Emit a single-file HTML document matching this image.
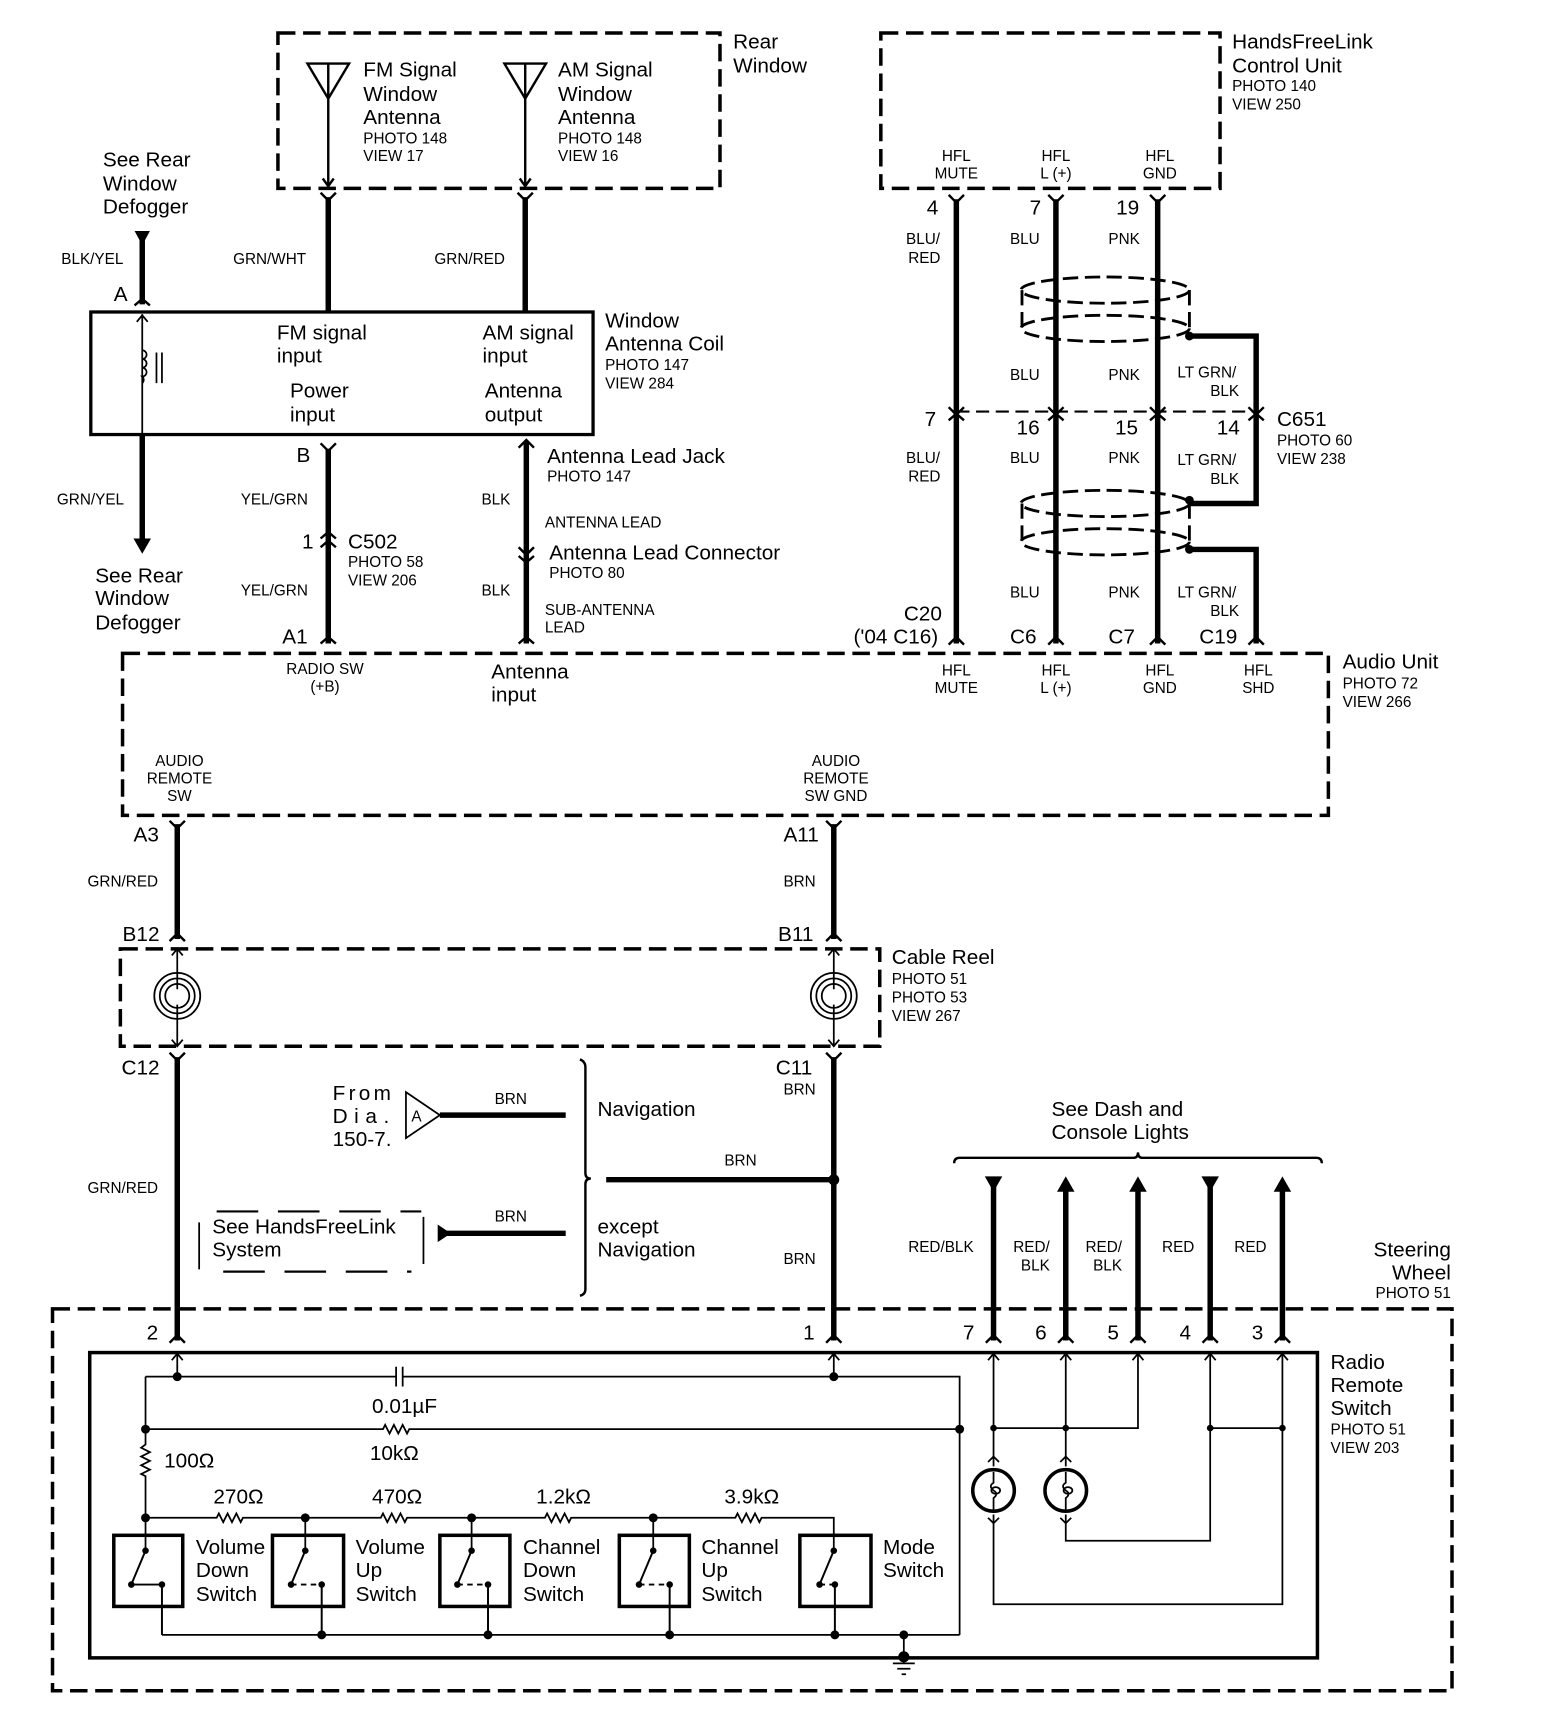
<!DOCTYPE html>
<html><head><meta charset="utf-8"><style>
html,body{margin:0;padding:0;background:#fff}
svg{display:block}
text{font-family:"Liberation Sans",sans-serif;fill:#000}
.L{font-size:19px}.S{font-size:14px}.M{font-size:15px}
.w{stroke:#000;stroke-width:5;fill:none}
.t{stroke:#000;stroke-width:1.6;fill:none}
.d{stroke:#000;stroke-width:3.2;fill:none;stroke-dasharray:16 7}
.c{stroke:#000;stroke-width:2.2;fill:none}
</style></head><body>
<svg width="1568" height="1716" viewBox="0 0 1433 1568" xmlns="http://www.w3.org/2000/svg">
<!-- Rear window -->
<rect x="254" y="30" width="404" height="142" class="d"/>
<text class="L" x="670" y="44">Rear</text><text class="L" x="670" y="66">Window</text>
<path d="M281 58 L319 58 L300 90 Z M300 58 V170 M295 163 L300 170 L305 163" class="c"/>
<path d="M461 58 L499 58 L480 90 Z M480 58 V170 M475 163 L480 170 L485 163" class="c"/>
<text class="L" x="332" y="70">FM Signal</text><text class="L" x="332" y="92">Window</text><text class="L" x="332" y="113">Antenna</text>
<text class="S" x="332" y="131">PHOTO 148</text><text class="S" x="332" y="147">VIEW 17</text>
<text class="L" x="510" y="70">AM Signal</text><text class="L" x="510" y="92">Window</text><text class="L" x="510" y="113">Antenna</text>
<text class="S" x="510" y="131">PHOTO 148</text><text class="S" x="510" y="147">VIEW 16</text>
<path d="M300 180 V285 M480 180 V285" class="w"/>
<path d="M293 176 L300 183 L307 176 M473 176 L480 183 L487 176" class="c" stroke-width="3"/>
<text class="S" x="213" y="241">GRN/WHT</text><text class="S" x="397" y="241">GRN/RED</text>
<!-- defogger -->
<text class="L" x="94" y="152">See Rear</text><text class="L" x="94" y="174">Window</text><text class="L" x="94" y="195">Defogger</text>
<path d="M123 211 L137 211 L130 224 Z" fill="#000"/>
<path d="M130 212 V278" class="w"/>
<path d="M123 279 L130 273 L137 279" class="c" stroke-width="3"/>
<text class="S" x="56" y="241">BLK/YEL</text><text class="L" x="104" y="275">A</text>
<rect x="83" y="285" width="459" height="112" stroke="#000" stroke-width="3" fill="none"/>
<path d="M130 287 V397 M125 294 L130 288 L135 294" class="t"/>
<path d="M130 320 a4 4 0 0 1 0 8 a4 4 0 0 1 0 8 a4 4 0 0 1 0 8 a4 4 0 0 1 0 6 M143 322 V350 M148 322 V350" class="t"/>
<text class="L" x="253" y="310">FM signal</text><text class="L" x="253" y="331">input</text>
<text class="L" x="441" y="310">AM signal</text><text class="L" x="441" y="331">input</text>
<text class="L" x="265" y="363">Power</text><text class="L" x="265" y="385">input</text>
<text class="L" x="443" y="363">Antenna</text><text class="L" x="443" y="385">output</text>
<text class="L" x="553" y="299">Window</text><text class="L" x="553" y="320">Antenna Coil</text>
<text class="S" x="553" y="338">PHOTO 147</text><text class="S" x="553" y="355">VIEW 284</text>
<path d="M130 397 V495" class="w"/><path d="M122 492 L138 492 L130 506 Z" fill="#000"/>
<text class="S" x="52" y="461">GRN/YEL</text>
<text class="L" x="87" y="532">See Rear</text><text class="L" x="87" y="553">Window</text><text class="L" x="87" y="575">Defogger</text>
<!-- B / C502 -->
<path d="M300 410 V588" class="w"/>
<path d="M293 405 L300 412 L307 405 M293 588 L300 582 L307 588 M293 492 L300 486 L307 492 M293 500 L300 494 L307 500" class="c" stroke-width="3"/>
<text class="L" x="271" y="422">B</text><text class="S" x="220" y="461">YEL/GRN</text><text class="S" x="220" y="544">YEL/GRN</text>
<text class="L" x="276" y="501">1</text><text class="L" x="318" y="501">C502</text>
<text class="S" x="318" y="518">PHOTO 58</text><text class="S" x="318" y="535">VIEW 206</text>
<text class="L" x="258" y="588">A1</text>
<path d="M481 403 V588" class="w"/>
<path d="M474 409 L481 402 L488 409 M474 500 L481 507 L488 500 M474 508 L481 514 L488 508 M474 588 L481 582 L488 588" class="c" stroke-width="3"/>
<text class="L" x="500" y="423">Antenna Lead Jack</text><text class="S" x="500" y="440">PHOTO 147</text>
<text class="S" x="440" y="461">BLK</text><text class="S" x="498" y="482">ANTENNA LEAD</text>
<text class="L" x="502" y="511">Antenna Lead Connector</text><text class="S" x="502" y="528">PHOTO 80</text>
<text class="S" x="440" y="544">BLK</text><text class="S" x="498" y="562">SUB-ANTENNA</text><text class="S" x="498" y="578">LEAD</text>
<!-- HFL unit -->
<rect x="805" y="30" width="310" height="142" class="d"/>
<text class="L" x="1126" y="44">HandsFreeLink</text><text class="L" x="1126" y="66">Control Unit</text>
<text class="S" x="1126" y="83">PHOTO 140</text><text class="S" x="1126" y="100">VIEW 250</text>
<g class="S" text-anchor="middle"><text x="874" y="147">HFL</text><text x="874" y="163">MUTE</text>
<text x="965" y="147">HFL</text><text x="965" y="163">L (+)</text><text x="1060" y="147">HFL</text><text x="1060" y="163">GND</text></g>
<path d="M874 182 V588 M965 182 V588 M1058 182 V588" class="w"/>
<path d="M1087 307 H1148 V460 H1087 M1087 502 H1148 V588" class="w"/>
<g class="c" stroke-width="3">
<path d="M867 178 L874 185 L881 178 M958 178 L965 185 L972 178 M1051 178 L1058 185 L1065 178"/>
<path d="M867 372 L874 379 L881 372 M958 372 L965 379 L972 372 M1051 372 L1058 379 L1065 372 M1141 372 L1148 379 L1155 372"/>
<path d="M867 384 L874 378 L881 384 M958 384 L965 378 L972 384 M1051 384 L1058 378 L1065 384 M1141 384 L1148 378 L1155 384"/>
<path d="M867 589 L874 582 L881 589 M958 589 L965 582 L972 589 M1051 589 L1058 582 L1065 589 M1141 589 L1148 582 L1155 589"/>
</g>
<path d="M874 376 H1148" stroke="#000" stroke-width="2" stroke-dasharray="12 6"/>
<g stroke="#000" stroke-width="2.6" fill="none" stroke-dasharray="14 6">
<ellipse cx="1010" cy="265" rx="77" ry="12"/><ellipse cx="1010" cy="300" rx="77" ry="12"/>
<path d="M934 265 V300 M1087 265 V300"/>
<ellipse cx="1010" cy="460" rx="77" ry="12"/><ellipse cx="1010" cy="495" rx="77" ry="12"/>
<path d="M934 460 V495 M1087 460 V495"/></g>
<circle cx="1087" cy="307" r="4"/><circle cx="1087" cy="457" r="4"/><circle cx="1087" cy="502" r="4"/>
<text class="L" x="847" y="196">4</text><text class="L" x="941" y="196">7</text><text class="L" x="1020" y="196">19</text>
<text class="S" x="828" y="223">BLU/</text><text class="S" x="830" y="240">RED</text>
<text class="S" x="923" y="223">BLU</text><text class="S" x="1013" y="223">PNK</text>
<text class="S" x="923" y="347">BLU</text><text class="S" x="1013" y="347">PNK</text>
<text class="S" x="1076" y="345">LT GRN/</text><text class="S" x="1106" y="362">BLK</text>
<text class="L" x="845" y="389">7</text><text class="L" x="929" y="397">16</text><text class="L" x="1019" y="397">15</text><text class="L" x="1112" y="397">14</text>
<text class="L" x="1167" y="389">C651</text><text class="S" x="1167" y="407">PHOTO 60</text><text class="S" x="1167" y="424">VIEW 238</text>
<text class="S" x="828" y="423">BLU/</text><text class="S" x="830" y="440">RED</text>
<text class="S" x="923" y="423">BLU</text><text class="S" x="1013" y="423">PNK</text>
<text class="S" x="1076" y="425">LT GRN/</text><text class="S" x="1106" y="442">BLK</text>
<text class="S" x="923" y="546">BLU</text><text class="S" x="1013" y="546">PNK</text>
<text class="S" x="1076" y="546">LT GRN/</text><text class="S" x="1106" y="563">BLK</text>
<text class="L" x="826" y="567">C20</text><text class="L" x="780" y="588">('04 C16)</text>
<text class="L" x="923" y="588">C6</text><text class="L" x="1013" y="588">C7</text><text class="L" x="1096" y="588">C19</text>
<!-- Audio unit -->
<rect x="112" y="597" width="1102" height="148" class="d"/>
<g class="S" text-anchor="middle">
<text x="297" y="616">RADIO SW</text><text x="297" y="632">(+B)</text>
<text x="874" y="617">HFL</text><text x="874" y="633">MUTE</text><text x="965" y="617">HFL</text><text x="965" y="633">L (+)</text>
<text x="1060" y="617">HFL</text><text x="1060" y="633">GND</text><text x="1150" y="617">HFL</text><text x="1150" y="633">SHD</text>
<text x="164" y="700">AUDIO</text><text x="164" y="716">REMOTE</text><text x="164" y="732">SW</text>
<text x="764" y="700">AUDIO</text><text x="764" y="716">REMOTE</text><text x="764" y="732">SW GND</text></g>
<text class="L" x="449" y="620">Antenna</text><text class="L" x="449" y="641">input</text>
<text class="L" x="1227" y="611">Audio Unit</text><text class="S" x="1227" y="629">PHOTO 72</text><text class="S" x="1227" y="646">VIEW 266</text>
<!-- A3 / A11 -->
<path d="M162 753 V858 M762 753 V858" class="w"/>
<g class="c" stroke-width="3"><path d="M155 750 L162 757 L169 750 M755 750 L762 757 L769 750 M155 860 L162 853 L169 860 M755 860 L762 853 L769 860"/></g>
<text class="L" x="122" y="769">A3</text><text class="L" x="716" y="769">A11</text>
<text class="S" x="80" y="810">GRN/RED</text><text class="S" x="716" y="810">BRN</text>
<text class="L" x="112" y="860">B12</text><text class="L" x="711" y="860">B11</text>
<!-- cable reel -->
<rect x="110" y="867" width="694" height="89" class="d"/>
<g class="t"><path d="M162 867 V904 M157 873 L162 867 L167 873 M162 918 V955 M157 950 L162 956 L167 950"/>
<circle cx="162" cy="910" r="21"/><circle cx="162" cy="910" r="16"/><circle cx="162" cy="910" r="11"/>
<path d="M762 867 V904 M757 873 L762 867 L767 873 M762 918 V955 M757 950 L762 956 L767 950"/>
<circle cx="762" cy="910" r="21"/><circle cx="762" cy="910" r="16"/><circle cx="762" cy="910" r="11"/></g>
<text class="L" x="815" y="881">Cable Reel</text><text class="S" x="815" y="899">PHOTO 51</text><text class="S" x="815" y="916">PHOTO 53</text><text class="S" x="815" y="933">VIEW 267</text>
<path d="M162 966 V1225 M762 966 V1225" class="w"/>
<g class="c" stroke-width="3"><path d="M155 962 L162 969 L169 962 M755 962 L762 969 L769 962"/></g>
<text class="L" x="111" y="982">C12</text><text class="L" x="709" y="982">C11</text>
<text class="S" x="716" y="1000">BRN</text><text class="S" x="80" y="1090">GRN/RED</text><text class="S" x="716" y="1155">BRN</text>
<circle cx="762" cy="1078" r="5"/>
<!-- navigation -->
<text class="L" x="304" y="1005" letter-spacing="3">From</text><text class="L" x="304" y="1026" letter-spacing="6">Dia.</text><text class="L" x="304" y="1047">150-7.</text>
<path d="M371 998 L402 1019 L371 1040 Z" class="t"/><text class="S" x="376" y="1025">A</text>
<path d="M402 1019 H517 M554 1078 H762 M408 1127 H517" class="w"/>
<path d="M400 1119 L412 1127 L400 1135 Z" fill="#000"/>
<text class="S" x="452" y="1009">BRN</text><text class="S" x="662" y="1065">BRN</text><text class="S" x="452" y="1116">BRN</text>
<path d="M530 968 Q535 970 535 975 V1072 Q535 1077 540 1077 Q535 1077 535 1082 V1178 Q535 1183 530 1184" class="c" stroke-width="2.6"/>
<text class="L" x="546" y="1020">Navigation</text><text class="L" x="546" y="1127">except</text><text class="L" x="546" y="1148">Navigation</text>
<path d="M198 1107 H385 M204 1162 H376" stroke="#000" stroke-width="2" stroke-dasharray="38 18"/>
<path d="M182 1117 V1160 M387 1112 V1155" class="t" stroke-width="1"/>
<text class="L" x="194" y="1127">See HandsFreeLink</text><text class="L" x="194" y="1148">System</text>
<!-- dash lights -->
<text class="L" x="961" y="1020">See Dash and</text><text class="L" x="961" y="1041">Console Lights</text>
<path d="M872 1063 Q872 1058 877 1058 H1036 Q1040 1058 1040 1053 Q1040 1058 1044 1058 H1203 Q1208 1058 1208 1063" class="c" stroke-width="2.6"/>
<path d="M908 1080 V1225 M974 1080 V1225 M1040 1080 V1225 M1106 1080 V1225 M1172 1080 V1225" class="w"/>
<path d="M900 1075 L916 1075 L908 1089 Z M1098 1075 L1114 1075 L1106 1089 Z M966 1089 L982 1089 L974 1075 Z M1032 1089 L1048 1089 L1040 1075 Z M1164 1089 L1180 1089 L1172 1075 Z" fill="#000"/>
<g class="c" stroke-width="3"><path d="M901 1227 L908 1220 L915 1227 M967 1227 L974 1220 L981 1227 M1033 1227 L1040 1220 L1047 1227 M1099 1227 L1106 1220 L1113 1227 M1165 1227 L1172 1220 L1179 1227 M155 1227 L162 1220 L169 1227 M755 1227 L762 1220 L769 1227"/></g>
<text class="S" x="830" y="1144">RED/BLK</text>
<text class="S" x="926" y="1144">RED/</text><text class="S" x="933" y="1161">BLK</text>
<text class="S" x="992" y="1144">RED/</text><text class="S" x="999" y="1161">BLK</text>
<text class="S" x="1062" y="1144">RED</text><text class="S" x="1128" y="1144">RED</text>
<text class="L" x="1326" y="1148" text-anchor="end">Steering</text><text class="L" x="1326" y="1169" text-anchor="end">Wheel</text><text class="S" x="1326" y="1186" text-anchor="end">PHOTO 51</text>
<!-- steering wheel box -->
<rect x="48" y="1196" width="1279" height="349" class="d"/>
<text class="L" x="134" y="1224">2</text><text class="L" x="734" y="1224">1</text><text class="L" x="880" y="1224">7</text><text class="L" x="946" y="1224">6</text><text class="L" x="1012" y="1224">5</text><text class="L" x="1078" y="1224">4</text><text class="L" x="1144" y="1224">3</text>
<rect x="82" y="1236" width="1122" height="279" stroke="#000" stroke-width="3.2" fill="none"/>
<text class="L" x="1216" y="1251">Radio</text><text class="L" x="1216" y="1272">Remote</text><text class="L" x="1216" y="1293">Switch</text>
<text class="S" x="1216" y="1311">PHOTO 51</text><text class="S" x="1216" y="1328">VIEW 203</text>
<g class="t">
<path d="M162 1237 V1258 M157 1243 L162 1237 L167 1243 M762 1237 V1258 M757 1243 L762 1237 L767 1243"/>
<path d="M133 1258 H362 M368 1258 H877 V1494 M362 1249 V1267 M368 1249 V1267"/>
<path d="M133 1258 V1320 l-4 3 l8 4 l-8 4 l8 4 l-8 4 l8 4 l-8 4 l4 2 V1387"/>
<path d="M133 1306 H350 l2 -4 l4 8 l4 -8 l4 8 l4 -8 l4 8 l2 -4 H877"/>
<path d="M133 1387 H198 l2 -4 l4 8 l4 -8 l4 8 l4 -8 l4 8 l2 -4 H348 l2 -4 l4 8 l4 -8 l4 8 l4 -8 l4 8 l2 -4 H498 l2 -4 l4 8 l4 -8 l4 8 l4 -8 l4 8 l2 -4 H672 l2 -4 l4 8 l4 -8 l4 8 l4 -8 l4 8 l2 -4 H762 V1417"/>
<path d="M148 1494 H877 M826 1494 V1520 M816 1520 H836 M820 1525 H832 M824 1530 H828"/>
<path d="M133 1387 V1417 M279 1387 V1417 M431 1387 V1417 M597 1387 V1417"/>
</g>
<g stroke="#000" stroke-width="2.2">
<circle cx="162" cy="1258" r="3" fill="#000"/><circle cx="762" cy="1258" r="3" fill="#000"/>
<circle cx="133" cy="1306" r="3" fill="#000"/><circle cx="877" cy="1306" r="3" fill="#000"/>
<circle cx="133" cy="1387" r="3" fill="#000"/><circle cx="279" cy="1387" r="3" fill="#000"/><circle cx="431" cy="1387" r="3" fill="#000"/><circle cx="597" cy="1387" r="3" fill="#000"/>
<circle cx="294" cy="1494" r="3" fill="#000"/><circle cx="446" cy="1494" r="3" fill="#000"/><circle cx="612" cy="1494" r="3" fill="#000"/><circle cx="763" cy="1494" r="3" fill="#000"/><circle cx="826" cy="1494" r="3" fill="#000"/><circle cx="826" cy="1514" r="4" fill="#000"/>
</g>
<!-- switches -->
<g stroke="#000" fill="none">
<rect x="104" y="1403" width="63" height="65" stroke-width="3.2"/>
<rect x="249" y="1403" width="65" height="65" stroke-width="3.2"/>
<rect x="402" y="1403" width="64" height="65" stroke-width="3.2"/>
<rect x="566" y="1403" width="64" height="65" stroke-width="3.2"/>
<rect x="731" y="1403" width="65" height="65" stroke-width="3.2"/>
</g>
<g stroke="#000" stroke-width="1.8" fill="none">
<path d="M133 1417 L120 1448 M120 1448 H148 M148 1448 V1494" stroke-dasharray="none"/>
<path d="M279 1417 L266 1448 M294 1448 V1494"/>
<path d="M431 1417 L418 1448 M446 1448 V1494"/>
<path d="M597 1417 L584 1448 M612 1448 V1494"/>
<path d="M762 1417 L749 1448 M763 1448 V1494"/>
<path d="M266 1448 H294 M418 1448 H446 M584 1448 H612 M749 1448 H763" stroke-dasharray="5 4"/>
</g>
<g fill="#000">
<circle cx="133" cy="1417" r="3"/><circle cx="120" cy="1448" r="3"/><circle cx="148" cy="1448" r="3"/>
<circle cx="279" cy="1417" r="3"/><circle cx="266" cy="1448" r="3"/><circle cx="294" cy="1448" r="3"/>
<circle cx="431" cy="1417" r="3"/><circle cx="418" cy="1448" r="3"/><circle cx="446" cy="1448" r="3"/>
<circle cx="597" cy="1417" r="3"/><circle cx="584" cy="1448" r="3"/><circle cx="612" cy="1448" r="3"/>
<circle cx="762" cy="1417" r="3"/><circle cx="749" cy="1448" r="3"/><circle cx="763" cy="1448" r="3"/>
</g>
<text class="L" x="179" y="1420">Volume</text><text class="L" x="179" y="1441">Down</text><text class="L" x="179" y="1463">Switch</text>
<text class="L" x="325" y="1420">Volume</text><text class="L" x="325" y="1441">Up</text><text class="L" x="325" y="1463">Switch</text>
<text class="L" x="478" y="1420">Channel</text><text class="L" x="478" y="1441">Down</text><text class="L" x="478" y="1463">Switch</text>
<text class="L" x="641" y="1420">Channel</text><text class="L" x="641" y="1441">Up</text><text class="L" x="641" y="1463">Switch</text>
<text class="L" x="807" y="1420">Mode</text><text class="L" x="807" y="1441">Switch</text>
<text class="L" x="195" y="1374">270Ω</text><text class="L" x="340" y="1374">470Ω</text><text class="L" x="490" y="1374">1.2kΩ</text><text class="L" x="662" y="1374">3.9kΩ</text>
<text class="L" x="340" y="1291">0.01µF</text><text class="L" x="338" y="1334">10kΩ</text><text class="L" x="150" y="1341">100Ω</text>
<!-- lamps -->
<g class="t">
<path d="M908 1237 V1340 M974 1237 V1340 M1040 1237 V1305 H908 M1106 1237 V1305 H1172 M1172 1237 V1466 H908 V1384 M974 1384 V1408 H1106 V1305"/>
<path d="M903 1243 L908 1237 L913 1243 M969 1243 L974 1237 L979 1243 M1035 1243 L1040 1237 L1045 1243 M1101 1243 L1106 1237 L1111 1243 M1167 1243 L1172 1237 L1177 1243"/>
<path d="M903 1336 L908 1331 L913 1336 M969 1336 L974 1331 L979 1336 M903 1387 L908 1392 L913 1387 M969 1387 L974 1392 L979 1387"/>
</g>
<circle cx="908" cy="1362" r="19" stroke="#000" stroke-width="3.2" fill="none"/>
<circle cx="974" cy="1362" r="19" stroke="#000" stroke-width="3.2" fill="none"/>
<path d="M908 1345 V1355 q-5 3 0 7 q5 3 0 7 V1380 M974 1345 V1355 q-5 3 0 7 q5 3 0 7 V1380" class="t"/>
<ellipse cx="910" cy="1362" rx="4" ry="3" class="t"/><ellipse cx="976" cy="1362" rx="4" ry="3" class="t"/>
<circle cx="908" cy="1305" r="3"/><circle cx="974" cy="1305" r="3"/><circle cx="1106" cy="1305" r="3"/><circle cx="1172" cy="1305" r="3"/>
</svg>
</body></html>
